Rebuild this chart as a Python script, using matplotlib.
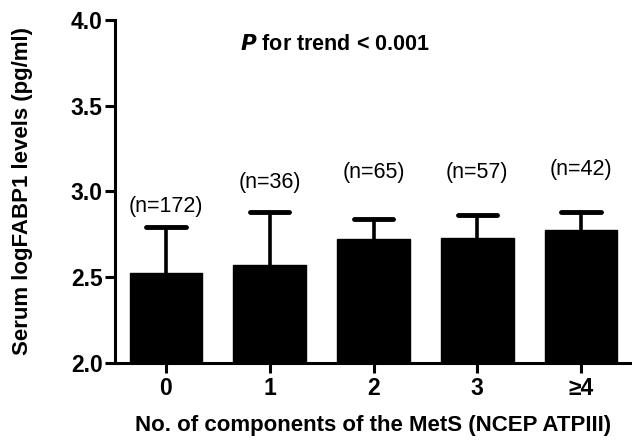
import matplotlib
matplotlib.use("Agg")
import matplotlib.pyplot as plt
import numpy as np

plt.rcParams['font.family'] = ['Liberation Sans', 'DejaVu Sans']

categories = ['0', '1', '2', '3', '≥4']
means = [2.525, 2.57, 2.72, 2.73, 2.775]
upper = [2.79, 2.88, 2.84, 2.86, 2.88]
n_labels = ['(n=172)', '(n=36)', '(n=65)', '(n=57)', '(n=42)']
n_label_y = [2.91, 3.05, 3.11, 3.11, 3.13]
yticks = [2.0, 2.5, 3.0, 3.5, 4.0]

fig = plt.figure(figsize=(6.32, 4.42), dpi=100)
ax = fig.add_axes([0.182, 0.179, 0.818, 0.776])

x = np.arange(len(categories))
ax.bar(x, means, width=0.7, color='black', edgecolor='black', linewidth=1, zorder=2)
ax.vlines(x, means, upper, color='black', linewidth=2.6, zorder=1)
ax.hlines(upper, x - 0.19, x + 0.19, color='black', linewidth=3.5,
          capstyle='round', zorder=1)

for xi, lab, yy in zip(x, n_labels, n_label_y):
    ax.text(xi, yy, lab, ha='center', va='center', fontsize=15.5)

ax.text(1.625, 3.854, r'$\bfit{P}$ for trend < 0.001', ha='center', va='center',
        fontsize=15.5, fontweight='bold')

ax.set_ylim(2.0, 4.0)
ax.set_xlim(-0.49, 4.49)
ax.set_yticks(yticks)
ax.set_yticklabels([f'{v:.1f}' for v in yticks], fontsize=16.5, fontweight='bold')
ax.set_xticks(x)
ax.set_xticklabels(categories, fontsize=16.5, fontweight='bold')

ax.spines['top'].set_visible(False)
ax.spines['right'].set_visible(False)
ax.spines['left'].set_linewidth(2.2)
ax.spines['bottom'].set_linewidth(2.2)
ax.tick_params(axis='y', direction='out', length=7, width=2.2, pad=2)
ax.tick_params(axis='x', direction='out', length=7, width=2.2, pad=3)

ax.set_ylabel('Serum logFABP1 levels (pg/ml)', fontsize=16, fontweight='bold')
ax.yaxis.set_label_coords(-0.159, 0.5)
ax.set_xlabel('No. of components of the MetS (NCEP ATPIII)', fontsize=16,
              fontweight='bold')
ax.xaxis.set_label_coords(0.5, -0.152)

fig.savefig('out.png', dpi=100)
